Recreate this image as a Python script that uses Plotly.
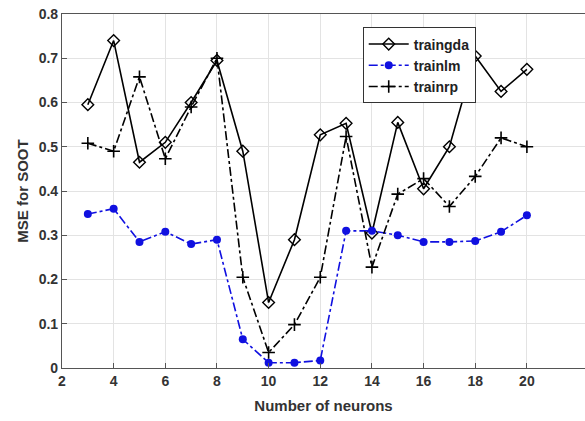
import plotly.graph_objects as go

neurons = list(range(3, 21))
traingda = [0.595, 0.740, 0.465, 0.510, 0.600, 0.695, 0.490, 0.148, 0.290, 0.527,
            0.553, 0.305, 0.555, 0.405, 0.500, 0.705, 0.625, 0.675]
trainlm = [0.348, 0.360, 0.285, 0.308, 0.280, 0.290, 0.065, 0.012, 0.012, 0.017,
           0.310, 0.310, 0.300, 0.285, 0.285, 0.287, 0.308, 0.345]
trainrp = [0.508, 0.490, 0.658, 0.473, 0.590, 0.700, 0.205, 0.035, 0.098, 0.205,
           0.523, 0.228, 0.393, 0.428, 0.365, 0.433, 0.520, 0.500]

x_ticks = list(range(2, 21, 2))
y_ticks = [0, 0.1, 0.2, 0.3, 0.4, 0.5, 0.6, 0.7, 0.8]

fig = go.Figure()
fig.add_trace(go.Scatter(
    x=neurons, y=traingda, name="traingda", mode="lines+markers",
    line=dict(color="black", width=1.6, dash="solid"),
    marker=dict(symbol="diamond-open", size=9, color="black", line=dict(width=1.4))))
fig.add_trace(go.Scatter(
    x=neurons, y=trainlm, name="trainlm", mode="lines+markers",
    line=dict(color="#1010e0", width=1.6, dash="dashdot"),
    marker=dict(symbol="circle", size=8, color="#1010e0")))
fig.add_trace(go.Scatter(
    x=neurons, y=trainrp, name="trainrp", mode="lines+markers",
    line=dict(color="black", width=1.6, dash="dashdot"),
    marker=dict(symbol="cross-thin-open", size=9, color="black", line=dict(width=1.6, color="black"))))

axis_common = dict(
    showgrid=True, gridcolor="#e3e3e3", gridwidth=1,
    showline=True, linecolor="#555555", linewidth=1.2,
    ticks="inside", ticklen=5, tickcolor="#555555",
    tickfont=dict(family="Liberation Sans, Arial", size=14, color="#333333", weight="bold"),
    zeroline=False, mirror=True,
)

fig.update_layout(
    width=585, height=421,
    margin=dict(l=62, r=0, t=14, b=53),
    paper_bgcolor="white", plot_bgcolor="white",
    xaxis=dict(range=[2, 22.25], tickvals=x_ticks,
               title=dict(text="Number of neurons", standoff=12,
                          font=dict(family="Liberation Sans, Arial", size=15, color="#333333", weight="bold")),
               **axis_common),
    yaxis=dict(range=[0, 0.8], tickvals=y_ticks, ticktext=["0", "0.1", "0.2", "0.3", "0.4", "0.5", "0.6", "0.7", "0.8"],
               title=dict(text="MSE for SOOT", standoff=6,
                          font=dict(family="Liberation Sans, Arial", size=15, color="#333333", weight="bold")),
               **axis_common),
    legend=dict(x=0.575, y=0.962, xanchor="left", yanchor="top",
                bgcolor="white", bordercolor="#333333", borderwidth=1,
                font=dict(family="Liberation Sans, Arial", size=14, color="#222222", weight="bold"),
                tracegroupgap=0, itemwidth=40),
    showlegend=True,
)

fig.write_html("out.html")
